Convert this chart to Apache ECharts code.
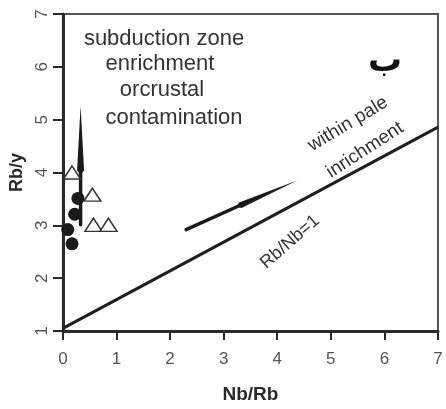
<!DOCTYPE html>
<html>
<head>
<meta charset="utf-8">
<script src="https://cdn.jsdelivr.net/npm/echarts@6/dist/echarts.min.js"></script>
<style>
html,body{margin:0;padding:0;background:#fff;}
#c{width:446px;height:409px;}
</style>
</head>
<body>
<div id="c"></div>
<script>
// ---- data ----
var xTicks = [0, 1, 2, 3, 4, 5, 6, 7];
var yTicks = [1, 2, 3, 4, 5, 6, 7];
var circles = [[0.28, 3.51], [0.22, 3.21], [0.09, 2.92], [0.17, 2.65]];
var triangles = [[0.17, 4.00], [0.55, 3.58], [0.57, 3.01], [0.85, 3.01]];
var rbNbLine = [[0, 1.05], [7, 4.86]];
var verticalArrow = [[0.33, 3.01], [0.33, 4.04], [0.33, 5.26]];   // start, head, tip
var slantArrow = [[2.30, 2.92], [3.31, 3.38], [4.37, 3.85]];      // start, head, tip

var chart = echarts.init(document.getElementById('c'), null, {renderer: 'canvas'});

function arrowRender(points, bulge) {
  return function (params, api) {
    var p0 = api.coord(points[0]);
    var p1 = api.coord(points[1]);
    var p2 = api.coord(points[2]);
    var dx = p2[0] - p1[0], dy = p2[1] - p1[1];
    var len = Math.sqrt(dx * dx + dy * dy);
    var nx = -dy / len, ny = dx / len;
    var w = bulge;
    var backX = p1[0] - dx / len * 4, backY = p1[1] - dy / len * 4;
    return {
      type: 'group',
      children: [
        {type: 'polyline', shape: {points: [p0, p1]}, style: {stroke: '#1a1a1a', lineWidth: 3.5, lineCap: 'round'}},
        {type: 'polygon', shape: {points: [
          [backX, backY],
          [p1[0] + nx * w, p1[1] + ny * w],
          p2,
          [p1[0] - nx * w, p1[1] - ny * w]
        ]}, style: {fill: '#1a1a1a'}}
      ]
    };
  };
}

var option = {
  backgroundColor: '#ffffff',
  animation: false,
  grid: {left: 57, right: 8, top: 14, bottom: 66, show: true, borderColor: '#555', borderWidth: 2},
  xAxis: {
    type: 'value', min: 0, max: 7, interval: 1,
    name: 'Nb/Rb', nameLocation: 'middle', nameGap: 54,
    nameTextStyle: {fontFamily: 'Liberation Sans', fontWeight: 'bold', fontSize: 19, color: '#2a2a2a'},
    axisLine: {show: true, onZero: false, lineStyle: {color: '#2a2a2a', width: 3}},
    axisTick: {show: true, length: 9, lineStyle: {color: '#2a2a2a', width: 2}},
    axisLabel: {margin: 20, fontFamily: 'Liberation Sans', fontSize: 17, color: '#555',
      formatter: function (v) { return xTicks.indexOf(v) >= 0 ? String(v) : ''; }},
    splitLine: {show: false}
  },
  yAxis: {
    type: 'value', min: 1, max: 7, interval: 1,
    name: 'Rb/y', nameLocation: 'middle', nameGap: 31,
    nameTextStyle: {fontFamily: 'Liberation Sans', fontWeight: 'bold', fontSize: 18, color: '#2a2a2a'},
    axisLine: {show: true, onZero: false, lineStyle: {color: '#2a2a2a', width: 3}},
    axisTick: {show: true, length: 10, lineStyle: {color: '#2a2a2a', width: 2}},
    axisLabel: {margin: 12, rotate: 90, fontFamily: 'Liberation Sans', fontSize: 17, color: '#555',
      formatter: function (v) { return yTicks.indexOf(v) >= 0 ? String(v) : ''; }},
    splitLine: {show: false}
  },
  series: [
    {type: 'line', data: rbNbLine, symbol: 'none', lineStyle: {color: '#1f1f1f', width: 3}, z: 3},
    {type: 'custom', renderItem: arrowRender(verticalArrow, 3.5), data: [0], z: 4},
    {type: 'custom', renderItem: arrowRender(slantArrow, 3), data: [0], z: 4},
    {type: 'scatter', data: circles, symbol: 'circle', symbolSize: 13,
      itemStyle: {color: '#1a1a1a', opacity: 1}, z: 5},
    {type: 'scatter', data: triangles, symbol: 'triangle', symbolSize: [17, 13],
      itemStyle: {color: '#ffffff', borderColor: '#333', borderWidth: 1.5, opacity: 1}, z: 5}
  ],
  graphic: [
    {type: 'text', x: 164, y: 39, style: {text: 'subduction zone', font: '22px "Liberation Sans"', fill: '#333', align: 'center', verticalAlign: 'middle'}},
    {type: 'text', x: 160, y: 64, style: {text: 'enrichment', font: '22px "Liberation Sans"', fill: '#333', align: 'center', verticalAlign: 'middle'}},
    {type: 'text', x: 162, y: 90, style: {text: 'orcrustal', font: '22px "Liberation Sans"', fill: '#333', align: 'center', verticalAlign: 'middle'}},
    {type: 'text', x: 174, y: 118, style: {text: 'contamination', font: '22px "Liberation Sans"', fill: '#333', align: 'center', verticalAlign: 'middle'}},
    {type: 'text', x: 385, y: 62, style: {text: 'ب', font: 'bold 34px "DejaVu Sans"', fill: '#111', align: 'center', verticalAlign: 'middle'}},
    {type: 'text', x: 348, y: 124, rotation: 31 * Math.PI / 180, style: {text: 'within pale', font: '19px "Liberation Sans"', fill: '#333', align: 'center', verticalAlign: 'middle'}},
    {type: 'text', x: 365, y: 150, rotation: 33 * Math.PI / 180, style: {text: 'inrichment', font: '19px "Liberation Sans"', fill: '#333', align: 'center', verticalAlign: 'middle'}},
    {type: 'text', x: 290, y: 242, rotation: 41 * Math.PI / 180, style: {text: 'Rb/Nb=1', font: '18px "Liberation Sans"', fill: '#333', align: 'center', verticalAlign: 'middle'}}
  ]
};
chart.setOption(option);
</script>
</body>
</html>
